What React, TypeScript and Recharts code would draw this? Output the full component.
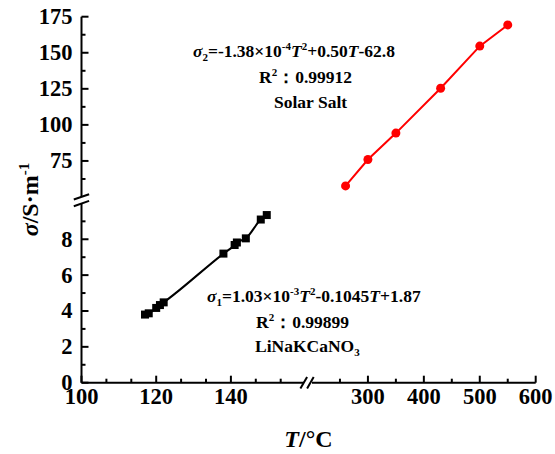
import { LineChart, Line, XAxis, YAxis, ReferenceDot } from 'recharts';

// LiNaKCaNO3 (lower-left panel)
const lnkTemp = [117, 118, 120, 121, 122, 138, 141, 141.6, 144, 148, 149.6];
const lnkCond = [3.8, 3.87, 4.17, 4.33, 4.48, 7.2, 7.68, 7.82, 8.05, 9.1, 9.35];

// Solar Salt (upper-right panel)
const solarTemp = [260, 300, 350, 430, 500, 550];
const solarCond = [57.7, 76.0, 94.3, 125.4, 154.6, 169.3];

// ticks
const xLeftMajor = [100, 120, 140];
const xLeftTicks = [100, 320 / 3, 340 / 3, 120, 380 / 3, 400 / 3, 140, 440 / 3, 460 / 3];
const xRightMajor = [300, 400, 500, 600];
const xRightTicks = [250, 300, 350, 400, 450, 500, 550, 600];
const yLowMajor = [0, 2, 4, 6, 8];
const yLowTicks = [0, 1, 2, 3, 4, 5, 6, 7, 8, 9];
const yHighMajor = [75, 100, 125, 150, 175];
const yHighTicks = [62.5, 75, 87.5, 100, 112.5, 125, 137.5, 150, 162.5, 175];

const lnkData = lnkTemp.map((t, i) => ({ T: t, s: lnkCond[i] }));
const solarData = solarTemp.map((t, i) => ({ T: t, s: solarCond[i] }));

const FONT = "'Liberation Serif', 'Times New Roman', serif";
const W = 555;
const H = 454;
// panel edges (page pixels)
const AX_X = 81.5;
const XL_END = 305.6;
const XR_START = 312;
const XR_END = 535.7;
const AX_Y = 382.7;
const YL_TOP = 203.4;
const YU_BOT = 197;
const YU_TOP = 16.7;
const Y_AXIS_W = 60;
const X_AXIS_H = 40;
const TICK_GAP = 9;

const axisLine = { stroke: '#000', strokeWidth: 2 };

const YTick = (props: any) => {
  const { x, y, payload, majors } = props;
  const major = majors.includes(payload.value);
  const ax = x + TICK_GAP;
  return (
    <g>
      <line x1={ax} x2={ax + (major ? 7 : 4)} y1={y} y2={y} stroke="#000" strokeWidth={2} />
      {major && (
        <text x={x} y={y} dy={7.5} textAnchor="end" fontFamily={FONT} fontWeight="bold" fontSize={22.5} fill="#000">
          {payload.value}
        </text>
      )}
    </g>
  );
};

const XTick = (props: any) => {
  const { x, y, payload, majors } = props;
  const major = majors.includes(payload.value);
  const ay = y - TICK_GAP;
  return (
    <g>
      <line x1={x} x2={x} y1={ay} y2={ay - (major ? 7 : 4)} stroke="#000" strokeWidth={2} />
      {major && (
        <text x={x} y={ay + 21} textAnchor="middle" fontFamily={FONT} fontWeight="bold" fontSize={22.5} fill="#000">
          {payload.value}
        </text>
      )}
    </g>
  );
};

const XBreak = (p: any) => {
  const cx = p.cx + 1.5;
  const cy = p.cy;
  return (
    <g>
      <polygon points={`${cx - 6.7},${cy + 5.8} ${cx},${cy - 5.8} ${cx + 6.6},${cy - 5.8} ${cx},${cy + 5.8}`} fill="#fff" />
      <line x1={cx - 6.7} y1={cy + 5.8} x2={cx} y2={cy - 5.8} stroke="#000" strokeWidth={2} />
      <line x1={cx} y1={cy + 5.8} x2={cx + 6.6} y2={cy - 5.8} stroke="#000" strokeWidth={2} />
    </g>
  );
};

const YBreak = (p: any) => {
  const cx = p.cx;
  const cy = p.cy - 3.2;
  return (
    <g>
      <polygon points={`${cx - 7.7},${cy - 0.7} ${cx + 7.6},${cy - 6} ${cx + 7.6},${cy + 0.7} ${cx - 7.7},${cy + 6}`} fill="#fff" />
      <line x1={cx - 7.7} y1={cy - 0.7} x2={cx + 7.6} y2={cy - 6} stroke="#000" strokeWidth={2} />
      <line x1={cx - 7.7} y1={cy + 6} x2={cx + 7.6} y2={cy + 0.7} stroke="#000" strokeWidth={2} />
    </g>
  );
};

const SquareDot = (p: any) => (
  <rect key={p.index} x={p.cx - 4} y={p.cy - 4} width={8} height={8} fill="#000" />
);

const layer: any = { position: 'absolute', left: 0, top: 0 };
const ann = { fontFamily: FONT, fontWeight: 'bold' as const, fontSize: 17.5, fill: '#000' };

export default function App() {
  return (
    <div style={{ position: 'absolute', left: 0, top: 0, width: W, height: H, background: '#fff' }}>
      {/* upper-left: y axis 50-175 */}
      <div style={layer}>
        <LineChart width={W} height={H} data={lnkData} margin={{ left: AX_X - Y_AXIS_W, right: W - XL_END, top: YU_TOP, bottom: H - YU_BOT }}>
          <XAxis type="number" dataKey="T" domain={[100, 160]} hide allowDataOverflow />
          <YAxis
            type="number"
            domain={[50, 175]}
            ticks={yHighTicks}
            interval={0}
            width={Y_AXIS_W}
            tickSize={0}
            tickMargin={TICK_GAP}
            tickLine={false}
            axisLine={axisLine}
            allowDataOverflow
            tick={(p: any) => <YTick {...p} majors={yHighMajor} />}
          />
        </LineChart>
      </div>

      {/* upper-right: Solar Salt */}
      <div style={layer}>
        <LineChart width={W} height={H} data={solarData} margin={{ left: XR_START, right: W - XR_END, top: YU_TOP, bottom: H - YU_BOT }}>
          <XAxis type="number" dataKey="T" domain={[200, 600]} hide allowDataOverflow />
          <YAxis type="number" domain={[50, 175]} hide allowDataOverflow />
          <Line dataKey="s" type="linear" stroke="#ff0000" strokeWidth={2} dot={{ r: 4.5, fill: '#ff0000', stroke: '#ff0000', strokeWidth: 0 }} isAnimationActive={false} />
        </LineChart>
      </div>

      {/* lower-right: x axis 200-600 */}
      <div style={layer}>
        <LineChart width={W} height={H} data={solarData} margin={{ left: XR_START, right: W - XR_END, top: YL_TOP, bottom: H - AX_Y - X_AXIS_H }}>
          <XAxis
            type="number"
            dataKey="T"
            domain={[200, 600]}
            ticks={xRightTicks}
            interval={0}
            height={X_AXIS_H}
            tickSize={0}
            tickMargin={TICK_GAP}
            tickLine={false}
            axisLine={axisLine}
            allowDataOverflow
            tick={(p: any) => <XTick {...p} majors={xRightMajor} />}
          />
          <YAxis type="number" domain={[0, 10]} hide allowDataOverflow />
        </LineChart>
      </div>

      {/* lower-left: LiNaKCaNO3 */}
      <div style={layer}>
        <LineChart width={W} height={H} data={lnkData} margin={{ left: AX_X - Y_AXIS_W, right: W - XL_END, top: YL_TOP, bottom: H - AX_Y - X_AXIS_H }}>
          <XAxis
            type="number"
            dataKey="T"
            domain={[100, 160]}
            ticks={xLeftTicks}
            interval={0}
            height={X_AXIS_H}
            tickSize={0}
            tickMargin={TICK_GAP}
            tickLine={false}
            axisLine={axisLine}
            allowDataOverflow
            tick={(p: any) => <XTick {...p} majors={xLeftMajor} />}
          />
          <YAxis
            type="number"
            domain={[0, 10]}
            ticks={yLowTicks}
            interval={0}
            width={Y_AXIS_W}
            tickSize={0}
            tickMargin={TICK_GAP}
            tickLine={false}
            axisLine={axisLine}
            allowDataOverflow
            tick={(p: any) => <YTick {...p} majors={yLowMajor} />}
          />
          <Line dataKey="s" type="monotone" stroke="#000" strokeWidth={2} dot={SquareDot} isAnimationActive={false} />
          <ReferenceDot x={160} y={0} r={0} ifOverflow="visible" shape={XBreak} />
          <ReferenceDot x={100} y={10} r={0} ifOverflow="visible" shape={YBreak} />
        </LineChart>
      </div>

      {/* titles and fit annotations */}
      <svg width={W} height={H} style={{ ...layer, pointerEvents: 'none' }}>
        <text transform="rotate(-90 38 199.5)" x={38} y={199.5} textAnchor="middle" fontFamily={FONT} fontWeight="bold" fontSize={24} fill="#000">
          <tspan fontStyle="italic">σ</tspan>
          <tspan>/S·m</tspan>
          <tspan fontSize={15} dy={-9}>-1</tspan>
        </text>
        <text x={308.5} y={447} textAnchor="middle" fontFamily={FONT} fontWeight="bold" fontSize={24} fill="#000">
          <tspan fontStyle="italic">T</tspan>
          <tspan>/°C</tspan>
        </text>

        <text x={193} y={57} {...ann}>
          <tspan fontStyle="italic">σ</tspan>
          <tspan fontSize={11} dy={4}>2</tspan>
          <tspan dy={-4}>=-1.38×10</tspan>
          <tspan fontSize={11} dy={-7}>-4</tspan>
          <tspan fontStyle="italic" dy={7}>T</tspan>
          <tspan fontSize={11} dy={-7}>2</tspan>
          <tspan dy={7}>+0.50</tspan>
          <tspan fontStyle="italic">T</tspan>
          <tspan>-62.8</tspan>
        </text>
        <text x={259} y={83} {...ann}>
          <tspan>R</tspan>
          <tspan fontSize={11} dy={-7}>2</tspan>
          <tspan dy={7}>：0.99912</tspan>
        </text>
        <text x={274} y={108} {...ann}>Solar Salt</text>

        <text x={207} y={302} {...ann}>
          <tspan fontStyle="italic">σ</tspan>
          <tspan fontSize={11} dy={4}>1</tspan>
          <tspan dy={-4}>=1.03×10</tspan>
          <tspan fontSize={11} dy={-7}>-3</tspan>
          <tspan fontStyle="italic" dy={7}>T</tspan>
          <tspan fontSize={11} dy={-7}>2</tspan>
          <tspan dy={7}>-0.1045</tspan>
          <tspan fontStyle="italic">T</tspan>
          <tspan>+1.87</tspan>
        </text>
        <text x={256} y={328} {...ann}>
          <tspan>R</tspan>
          <tspan fontSize={11} dy={-7}>2</tspan>
          <tspan dy={7}>：0.99899</tspan>
        </text>
        <text x={255} y={352} {...ann}>
          <tspan>LiNaKCaNO</tspan>
          <tspan fontSize={11} dy={4}>3</tspan>
        </text>
      </svg>
    </div>
  );
}
